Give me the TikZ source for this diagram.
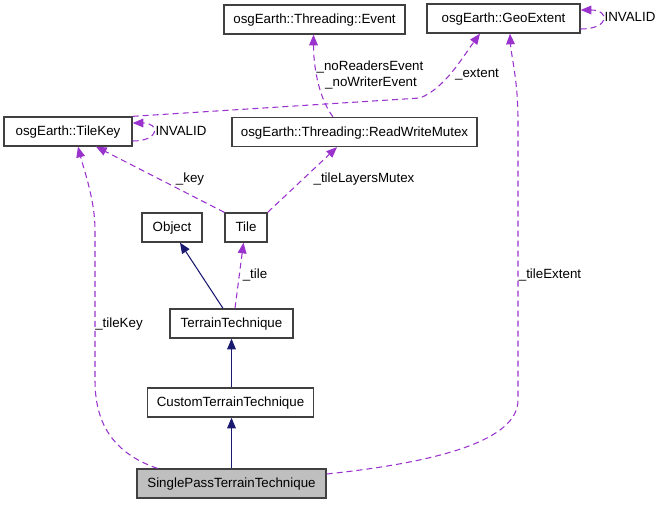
\documentclass[tikz,border=0pt]{standalone}
\usepackage{fontspec}
\setmainfont{Liberation Sans}
\usetikzlibrary{arrows.meta,calc}
\definecolor{usecol}{HTML}{9A32CD}
\definecolor{inhcol}{HTML}{191970}
\begin{document}
\begin{tikzpicture}[x=0.75pt, y=-0.75pt, font=\fontsize{10pt}{12pt}\selectfont,
    cls/.style={draw=black!75, line width=1pt, fill=white, minimum height=21.75pt, inner sep=1pt,
        text height=7.5pt, text depth=1.3pt},
    uses/.style={usecol, line width=0.8pt, dash pattern=on 4.5pt off 3pt, -{Triangle[length=8pt, width=6.5pt]}},
    inherits/.style={inhcol, line width=0.8pt, -{Triangle[length=8pt, width=6.5pt]}},
    lbl/.style={inner sep=0pt}]
    \useasboundingbox (0,0) rectangle (663,504);

    % Klassen
    \node[cls, minimum width=135.75pt] (event) at (314.5,19.5) {osgEarth::Threading::Event};
    \node[cls, minimum width=114.75pt] (geoextent) at (503.5,18.5) {osgEarth::GeoExtent};
    \node[cls, minimum width=96pt] (tilekey) at (68,131.5) {osgEarth::TileKey};
    \node[cls, minimum width=183.75pt] (rwmutex) at (354.5,132) {osgEarth::Threading::ReadWriteMutex};
    \node[cls, minimum width=45pt] (object) at (172,227.5) {Object};
    \node[cls, minimum width=31.5pt] (tile) at (246,227.5) {Tile};
    \node[cls, minimum width=92.25pt] (terraintech) at (231.5,323.5) {TerrainTechnique};
    \node[cls, minimum width=124.5pt] (customtech) at (230.5,402.5) {CustomTerrainTechnique};
    \node[cls, minimum width=141.75pt, fill=black!25] (singlepass) at (231.5,483.5) {SinglePassTerrainTechnique};

    % Vererbung
    \draw[inherits] ($(terraintech.north)+(-8.5,0)$) -- ($(object.south)+(8,0)$);
    \draw[inherits] (customtech.north -| terraintech.south) -- (terraintech.south);
    \draw[inherits] (singlepass.north) -- (customtech.south -| singlepass.north);

    % Benutzung
    \draw[uses] ($(rwmutex.north)+(-21.5,0)$) .. controls (320,100) and (313.5,70) .. ($(event.south)+(-1,0)$);
    \draw[uses] (tilekey.north east) -- (420,98) .. controls (445,88) and (462,58) .. ($(geoextent.south)+(-23.5,0)$);
    \draw[uses] ($(tilekey.east)+(0,9.5)$) .. controls (160,141) and (160,123) .. ($(tilekey.east)+(0,-8.5)$);
    \draw[uses] ($(geoextent.east)+(0,10.5)$) .. controls (610,29) and (610,10) .. ($(geoextent.east)+(0,-8.5)$);
    \draw[uses] (tile.north west) -- ($(tilekey.south)+(28,0)$);
    \draw[uses] (tile.north east) -- ($(rwmutex.south)+(-17.5,0)$);
    \draw[uses] ($(terraintech.north)+(3.5,0)$) -- ($(tile.south)+(-2.5,0)$);
    \draw[uses] ($(singlepass.north west)+(21,0)$) .. controls (110,452) and (95,420) .. (95,380)
        -- (95,230) .. controls (95,200) and (84,170) .. ($(tilekey.south)+(10,0)$);
    \draw[uses] ($(singlepass.east)+(0,-9.5)$) .. controls (440,462) and (518,440) .. (518,400)
        -- (518,120) .. controls (518,80) and (511,55) .. ($(geoextent.south)+(6.5,0)$);

    % Beschriftungen
    \node[lbl] (lnoreaders) at (370,67) {\_noReadersEvent};
    \node[lbl] (lnowriter) at (371,83) {\_noWriterEvent};
    \node[lbl] (lextent) at (477,75) {\_extent};
    \node[lbl] (linvalidkey) at (181,131) {INVALID};
    \node[lbl] (linvalidgeo) at (630,17) {INVALID};
    \node[lbl] (lkey) at (190,179) {\_key};
    \node[lbl] (lmutex) at (364,179) {\_tileLayersMutex};
    \node[lbl] (ltile) at (255,275) {\_tile};
    \node[lbl] (ltilekey) at (119,324) {\_tileKey};
    \node[lbl] (ltileextent) at (550,275) {\_tileExtent};
\end{tikzpicture}
\end{document}
